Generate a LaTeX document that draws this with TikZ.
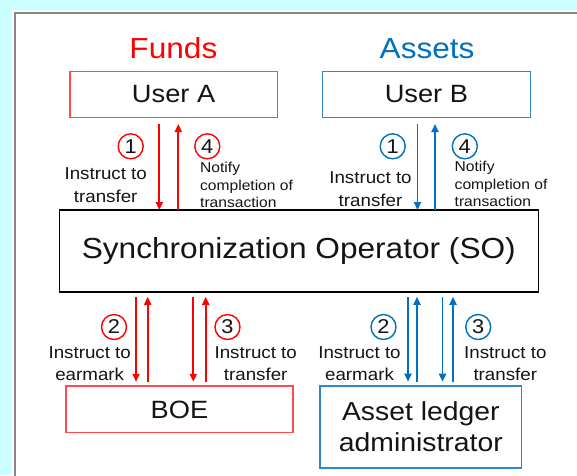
\documentclass[tikz,border=0pt]{standalone}
\usepackage{fontspec}
\setmainfont[FakeStretch=1.09]{Liberation Sans}
\usetikzlibrary{arrows.meta}
\definecolor{bgcyan}{RGB}{204,255,255}
\definecolor{panelgray}{RGB}{135,135,135}
\definecolor{myred}{RGB}{255,0,0}
\definecolor{myblue}{RGB}{0,112,192}
\definecolor{boxred}{RGB}{255,75,75}
\definecolor{boxblue}{RGB}{45,135,205}
\definecolor{txt}{RGB}{20,20,20}
\newcommand\myfs[2]{\fontsize{#1}{#2}\selectfont}
\begin{document}
\begin{tikzpicture}[x=1pt,y=-1pt,
  box/.style={draw, rectangle, inner sep=0pt, outer sep=0pt, line width=1.3pt, text=txt, align=center},
  redbox/.style={box, draw=boxred},
  bluebox/.style={box, draw=boxblue},
  arr/.style={line width=1.8pt, -{Triangle[length=8pt,width=7pt]}},
  rarr/.style={arr, draw=myred},
  barr/.style={arr, draw=myblue},
  num/.style={circle, draw, line width=1.4pt, minimum size=25pt, inner sep=0pt, text=txt, font=\myfs{20}{24}},
  rnum/.style={num, draw=myred},
  bnum/.style={num, draw=myblue},
  lab/.style={anchor=north, align=center, text=txt, inner sep=0pt, font=\myfs{17.2}{22.7}},
  note/.style={anchor=north west, align=left, text=txt, inner sep=0pt, font=\myfs{14.3}{17.5}},
  head/.style={anchor=base, inner sep=0pt, font=\myfs{29}{34}}
]
\useasboundingbox (0,0) rectangle (577,475);
\clip (0,0) rectangle (577,475);
\fill[bgcyan] (0,0) rectangle (577,475);
\fill[white] (11.8,10.4) rectangle (600,500);
\filldraw[fill=white, draw=panelgray, line width=2pt] (14.7,13.3) rectangle (600,500);

% headings
\node[head, text=myred] (funds) at (173.4,58.3) {Funds};
\node[head, text=myblue] (assets) at (427.1,58.3) {Assets};

% boxes
\node[redbox, minimum width=207.4pt, minimum height=45.6pt, font=\myfs{25}{30}] (userA) at (173.6,94.5) {User A};
\node[bluebox, minimum width=207.7pt, minimum height=45.6pt, font=\myfs{25}{30}] (userB) at (426.4,94.5) {User B};
\node[box, draw=black, line width=1.6pt, minimum width=479pt, minimum height=81.7pt, font=\myfs{29}{34}] (so) at (298.8,250.9) {Synchronization Operator (SO)};
\node[redbox, minimum width=227pt, minimum height=46.7pt, font=\myfs{25}{30}] (boe) at (179.5,409.4) {BOE};
\node[bluebox, minimum width=201.7pt, minimum height=82pt, font=\myfs{26}{31}] (ala) at (420.85,427) {Asset ledger\\administrator};

% connector anchor coordinates
\coordinate (tA1) at ([xshift=-14.3pt]userA.south);
\coordinate (tA4) at ([xshift=4.7pt]userA.south);
\coordinate (tB1) at ([xshift=-8.9pt]userB.south);
\coordinate (tB4) at ([xshift=8.6pt]userB.south);
\coordinate (bR2d) at ([xshift=-43.5pt]boe.north);
\coordinate (bR2u) at ([xshift=-31.8pt]boe.north);
\coordinate (bR3d) at ([xshift=13.8pt]boe.north);
\coordinate (bR3u) at ([xshift=26.2pt]boe.north);
\coordinate (bB2d) at ([xshift=-12.85pt]ala.north);
\coordinate (bB2u) at ([xshift=-3.85pt]ala.north);
\coordinate (bB3d) at ([xshift=21.65pt]ala.north);
\coordinate (bB3u) at ([xshift=32.15pt]ala.north);

% top arrows
\draw[rarr, shorten <=6.7pt] (tA1) -- (tA1 |- so.north);
\draw[rarr, shorten >=6.7pt] (tA4 |- so.north) -- (tA4);
\draw[barr, shorten <=6.7pt] (tB1) -- (tB1 |- so.north);
\draw[barr, shorten >=6.7pt] (tB4 |- so.north) -- (tB4);

% bottom arrows
\draw[rarr, shorten <=5pt, shorten >=4.3pt] (bR2d |- so.south) -- (bR2d);
\draw[rarr, shorten <=4.3pt, shorten >=5pt] (bR2u) -- (bR2u |- so.south);
\draw[rarr, shorten <=5pt, shorten >=4.3pt] (bR3d |- so.south) -- (bR3d);
\draw[rarr, shorten <=4.3pt, shorten >=5pt] (bR3u) -- (bR3u |- so.south);
\draw[barr, shorten <=5pt, shorten >=4.3pt] (bB2d |- so.south) -- (bB2d);
\draw[barr, shorten <=4.3pt, shorten >=5pt] (bB2u) -- (bB2u |- so.south);
\draw[barr, shorten <=5pt, shorten >=4.3pt] (bB3d |- so.south) -- (bB3d);
\draw[barr, shorten <=4.3pt, shorten >=5pt] (bB3u) -- (bB3u |- so.south);

% step numbers
\node[rnum] (nA1) at (130.7,146.3) {1};
\node[rnum] (nA4) at (207.3,146.3) {4};
\node[bnum] (nB1) at (392.7,146.3) {1};
\node[bnum] (nB4) at (464.8,146.3) {4};
\node[rnum] (nR2) at (114,327) {2};
\node[rnum] (nR3) at (227.5,327) {3};
\node[bnum] (nB2) at (383.5,327) {2};
\node[bnum] (nB3) at (478.2,327) {3};

% labels
\node[lab] (lA1) at (105.7,167.7) {Instruct to\\transfer};
\node[lab] (lB1) at (370.5,171.5) {Instruct to\\transfer};
\node[note] (lA4) at (200,162.3) {Notify\\completion of\\transaction};
\node[note] (lB4) at (454.5,161.0) {Notify\\completion of\\transaction};
\node[lab] (lR2) at (89.7,346.2) {Instruct to\\earmark};
\node[lab] (lR3) at (255.7,346.2) {Instruct to\\transfer};
\node[lab] (lB2) at (359.5,346.2) {Instruct to\\earmark};
\node[lab] (lB3) at (505.3,346.2) {Instruct to\\transfer};
\end{tikzpicture}
\end{document}
